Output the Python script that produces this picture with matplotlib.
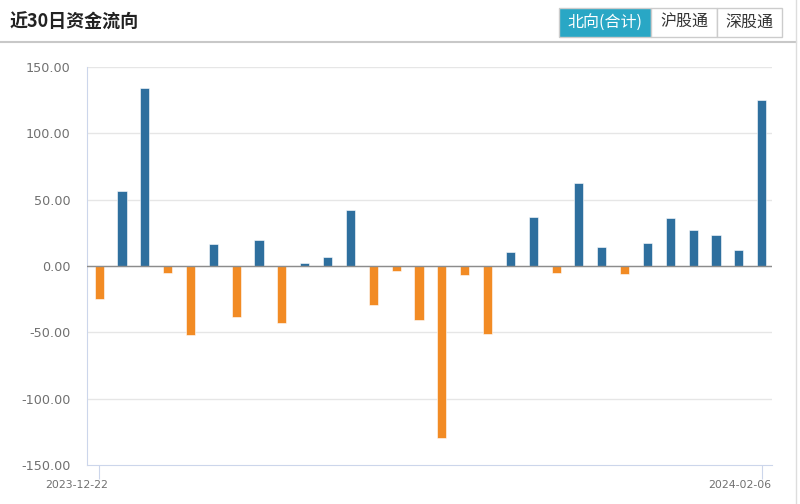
import matplotlib
matplotlib.use('Agg')
import matplotlib.pyplot as plt
import matplotlib.transforms as mtransforms
from matplotlib.patches import Rectangle

plt.rcParams['font.family'] = ['Noto Sans CJK SC', 'DejaVu Sans']

# northbound trading days (HK closed Dec 25/26)
dates = ['2023-12-22', '2023-12-27', '2023-12-28', '2023-12-29',
         '2024-01-02', '2024-01-03', '2024-01-04', '2024-01-05',
         '2024-01-08', '2024-01-09', '2024-01-10', '2024-01-11', '2024-01-12',
         '2024-01-15', '2024-01-16', '2024-01-17', '2024-01-18', '2024-01-19',
         '2024-01-22', '2024-01-23', '2024-01-24', '2024-01-25', '2024-01-26',
         '2024-01-29', '2024-01-30', '2024-01-31', '2024-02-01', '2024-02-02',
         '2024-02-05', '2024-02-06']
flows = [-24.5, 56.5, 134.5, -5.3, -52.3, 16.5, -38.8, 19.7, -43.0, 2.0,
         7.0, 42.2, -29.5, -3.8, -40.5, -129.5, -6.5, -51.3, 10.5, 37.2,
         -5.3, 62.5, 14.5, -6.3, 17.2, 36.5, 27.2, 23.2, 12.2, 125.5]
yticks = [-150, -100, -50, 0, 50, 100, 150]
title = '近30日资金流向'
buttons = ['北向(合计)', '沪股通', '深股通']

blue = '#2e6f9e'
orange = '#f28b24'
axis_col = '#ccd6eb'

fig = plt.figure(figsize=(8, 5.04), dpi=100)
ax = fig.add_axes([87/800, 39/504, 685/800, 398/504])

x = list(range(len(flows)))
colors = [blue if v >= 0 else orange for v in flows]
ax.bar(x, flows, width=0.4, color=colors, edgecolor='white', linewidth=0.4, zorder=3)

ax.set_xlim(-0.53, 29.45)
ax.set_ylim(-150, 150)
ax.set_yticks(yticks)
ax.set_yticklabels(['%.2f' % v for v in yticks], fontsize=9.2, color='#707070',
                   family='DejaVu Sans')
ax.tick_params(axis='y', length=0, pad=12)
for v in yticks:
    if v == -150:
        continue
    ax.axhline(v, color='#e6e6e6', lw=1, zorder=1)
ax.axhline(0, color='#8c8c8c', lw=1, zorder=4)

ax.set_xticks([0, len(flows) - 1])
ax.set_xticklabels([dates[0], dates[-1]], fontsize=7.8, color='#707070',
                   family='DejaVu Sans')
ax.tick_params(axis='x', length=10, color=axis_col, pad=1)
offset = mtransforms.ScaledTranslation(-22/100, 0, fig.dpi_scale_trans)
for lab in ax.get_xticklabels():
    lab.set_transform(lab.get_transform() + offset)

for s in ['top', 'right']:
    ax.spines[s].set_visible(False)
ax.spines['left'].set_color(axis_col)
ax.spines['bottom'].set_color(axis_col)

# header overlay
ov = fig.add_axes([0, 0, 1, 1], zorder=-1)
ov.set_xlim(0, 800)
ov.set_ylim(504, 0)
ov.axis('off')
ov.text(10, 22, title, fontsize=13, fontweight='bold', color='#222222', va='center')
ov.plot([0, 796], [42, 42], color='#c8c8c8', lw=1.5)
ov.plot([796, 796], [0, 504], color='#dddddd', lw=1)

edges = [559, 651, 717, 782]
for i, b in enumerate(buttons):
    fc = '#29a7c5' if i == 0 else 'white'
    tc = 'white' if i == 0 else '#333333'
    ov.add_patch(Rectangle((edges[i], 8), edges[i+1] - edges[i], 29,
                           facecolor=fc, edgecolor='#cccccc', lw=1))
    ov.text((edges[i] + edges[i+1]) / 2, 22.5, b, fontsize=11.5, color=tc,
            ha='center', va='center')

fig.savefig('out.png')
